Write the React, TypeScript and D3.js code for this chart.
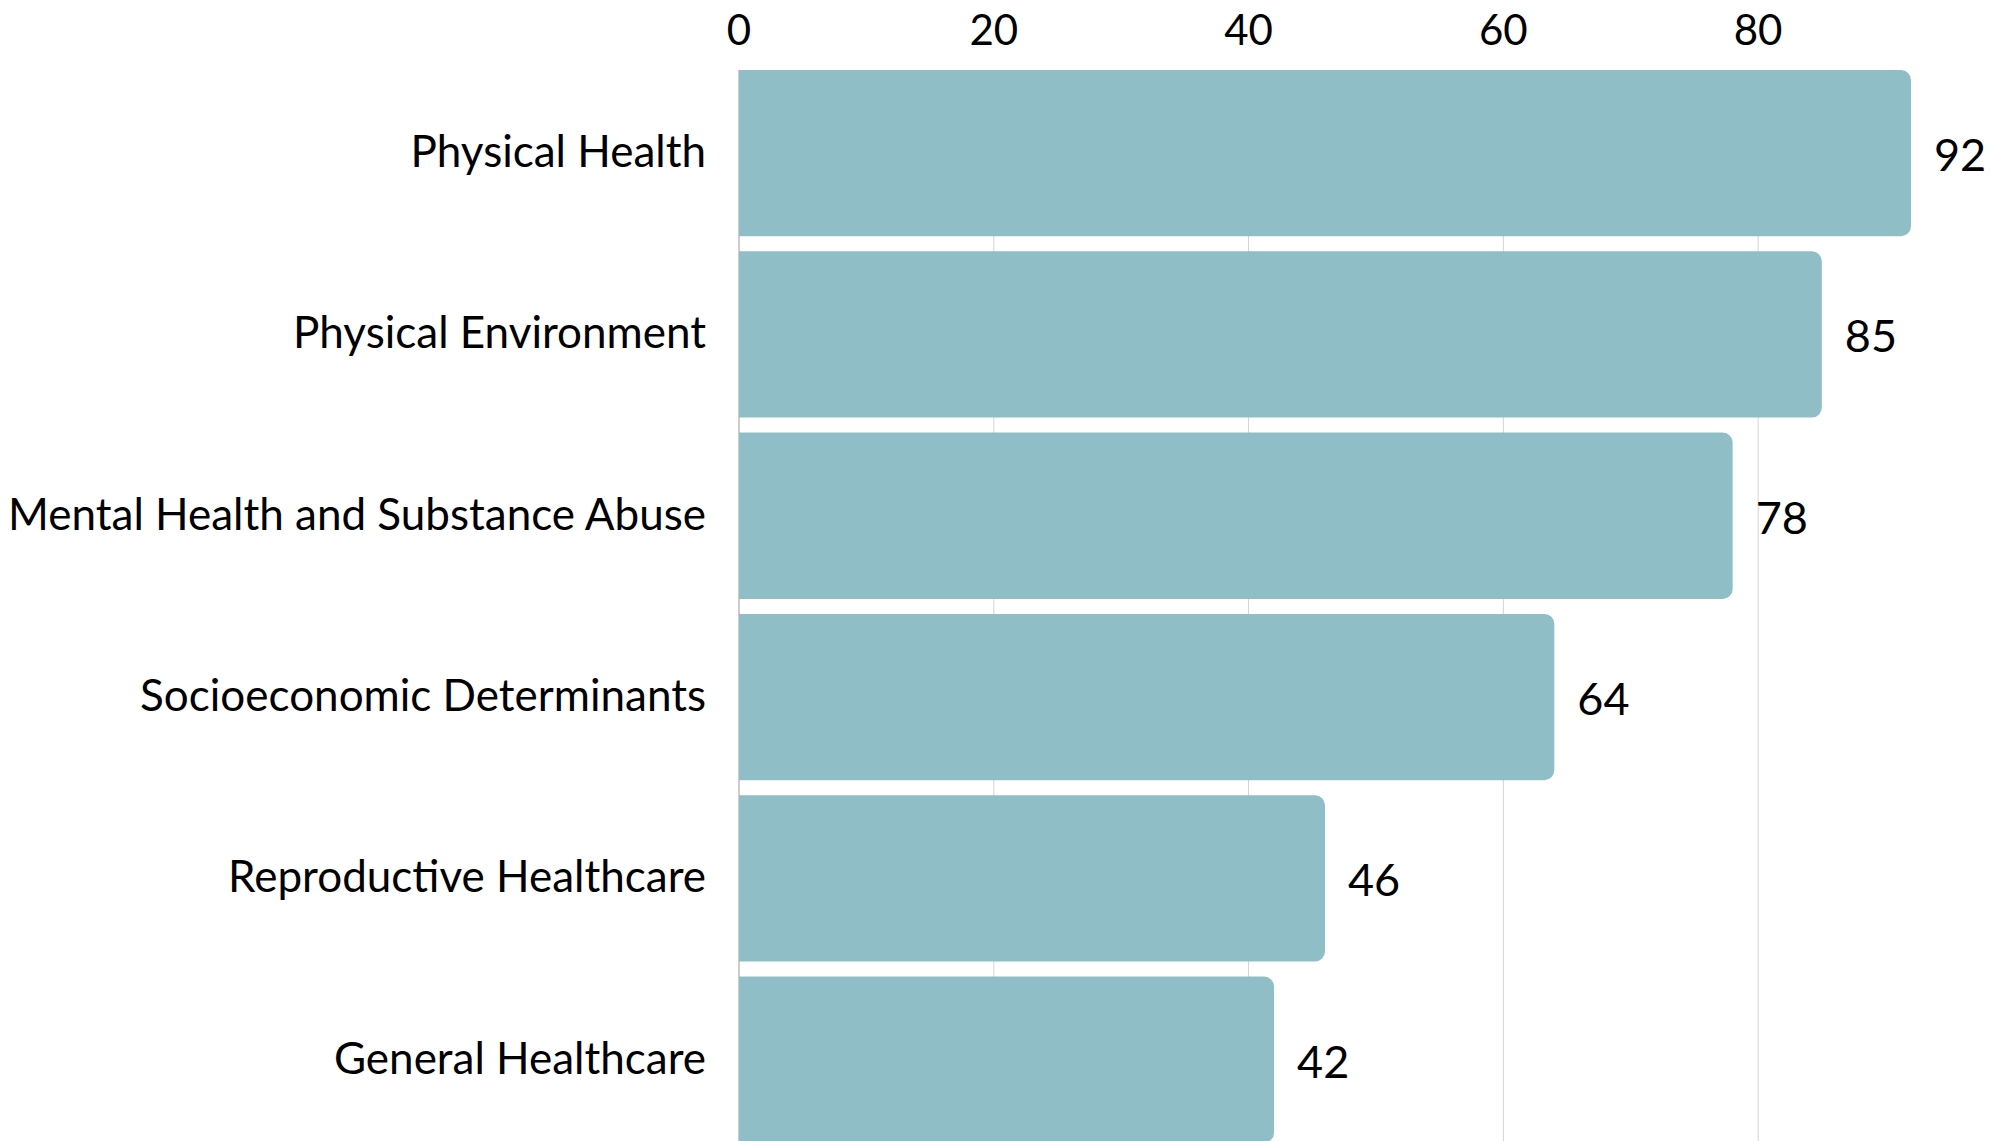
import React from "react";
import * as d3 from "d3";

const categories = [
  "Physical Health",
  "Physical Environment",
  "Mental Health and Substance Abuse",
  "Socioeconomic Determinants",
  "Reproductive Healthcare",
  "General Healthcare",
];
const values = [92, 85, 78, 64, 46, 42];
const tickValues = [0, 20, 40, 60, 80];

const W = 1999;
const H = 1141;
const FONT = "Lato, 'Open Sans', sans-serif";

function rightRounded(x0: number, y0: number, w: number, h: number, r: number) {
  const rr = Math.min(r, w / 2, h / 2);
  const p = d3.path();
  p.moveTo(x0, y0);
  p.lineTo(x0 + w - rr, y0);
  p.arcTo(x0 + w, y0, x0 + w, y0 + rr, rr);
  p.lineTo(x0 + w, y0 + h - rr);
  p.arcTo(x0 + w, y0 + h, x0 + w - rr, y0 + h, rr);
  p.lineTo(x0, y0 + h);
  p.closePath();
  return p.toString();
}

export default function App() {
  const x = d3.scaleLinear().domain([0, 92]).range([739, 1911]);
  const step = 181.3;
  const gap = 15;
  const y = d3
    .scaleBand<string>()
    .domain(categories)
    .range([70, 70 + step * 6 - gap])
    .paddingInner(gap / step)
    .paddingOuter(0)
    .align(0);
  const bw = y.bandwidth();

  return (
    <svg
      width={W}
      height={H}
      style={{ position: "absolute", left: 0, top: 0, background: "#fff" }}
      fontFamily={FONT}
    >
      <rect x={0} y={0} width={W} height={H} fill="#fff" />
      {tickValues.map((t) => (
        <g key={t}>
          {t > 0 && (
            <line x1={x(t)} x2={x(t)} y1={70} y2={H} stroke="#d4d4d4" strokeWidth={1} />
          )}
          <text x={x(t)} y={45} textAnchor="middle" fontSize={42} fill="#000">
            {t}
          </text>
        </g>
      ))}
      <line x1={x(0)} x2={x(0)} y1={70} y2={H} stroke="#9a9a9a" strokeWidth={1} />
      {categories.map((c, i) => {
        const y0 = y(c)!;
        const cy = y0 + bw / 2;
        return (
          <g key={c}>
            <path d={rightRounded(x(0), y0, x(values[i]) - x(0), bw, 10)} fill="#90bec6" />
            <text x={706} y={cy + 14} textAnchor="end" fontSize={44} fill="#000">
              {c}
            </text>
            <text x={x(values[i]) + 23} y={cy + 18} textAnchor="start" fontSize={45} fill="#000">
              {values[i]}
            </text>
          </g>
        );
      })}
    </svg>
  );
}
